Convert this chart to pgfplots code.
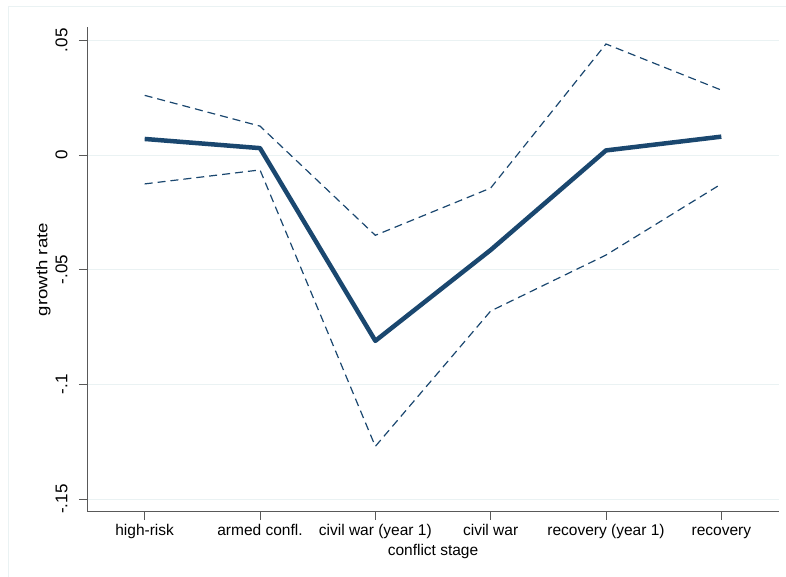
\documentclass[border=0pt]{standalone}
\usepackage{fontspec}
\setmainfont{Liberation Sans}
\usepackage{pgfplots}
\pgfplotsset{compat=1.18}
\definecolor{stblue}{HTML}{1A476F}
\definecolor{gridc}{HTML}{EAF2F3}
\begin{document}
\begin{tikzpicture}
\path[use as bounding box] (0pt,0pt) rectangle (786pt,577pt);
\draw[gridc, line width=1pt] (8pt,-2pt) -- (8pt,570pt) -- (790pt,570pt);
\begin{axis}[
  at={(87pt,65pt)}, anchor=south west,
  scale only axis, width=692pt, height=485pt,
  xmin=-0.5, xmax=5.5, ymin=-0.1556, ymax=0.0558,
  axis x line*=bottom, axis y line*=left,
  axis line style={black!65, line width=1pt},
  tick align=outside, major tick length=8pt,
  tick style={black!65, line width=0.8pt},
  xtick={0,1,2,3,4,5},
  xticklabels={high-risk, armed confl., civil war (year 1), civil war, recovery (year 1), recovery},
  xticklabel style={text height=0.72em, text depth=0.22em, inner sep=1pt},
  xticklabel shift=7pt,
  ytick={-0.15,-0.1,-0.05,0,0.05},
  yticklabels={-.15,-.1,-.05,0,.05},
  yticklabel style={rotate=90, anchor=south, font=\fontsize{17}{20}\selectfont},
  yticklabel shift=8pt,
  ymajorgrids, grid style={gridc, line width=1pt},
  font=\fontsize{15.5}{18}\selectfont,
  xlabel={conflict stage}, ylabel={\scalebox{1.2}[1]{growth rate}},
  xlabel style={yshift=-2pt},
  ylabel style={yshift=-2pt},
  clip=false,
]
\addplot[stblue, line width=1.2pt, dash pattern=on 8pt off 5pt] coordinates {
(0,0.0260) (1,0.0126) (2,-0.0350) (3,-0.0144) (4,0.0484) (5,0.0283)};
\addplot[stblue, line width=1.2pt, dash pattern=on 8pt off 5pt] coordinates {
(0,-0.0126) (1,-0.0065) (2,-0.1270) (3,-0.0680) (4,-0.0436) (5,-0.0126)};
\addplot[stblue, line width=4.5pt, line join=round] coordinates {
(0,0.0070) (1,0.0030) (2,-0.0810) (3,-0.0414) (4,0.0020) (5,0.0080)};
\end{axis}
\end{tikzpicture}
\end{document}
